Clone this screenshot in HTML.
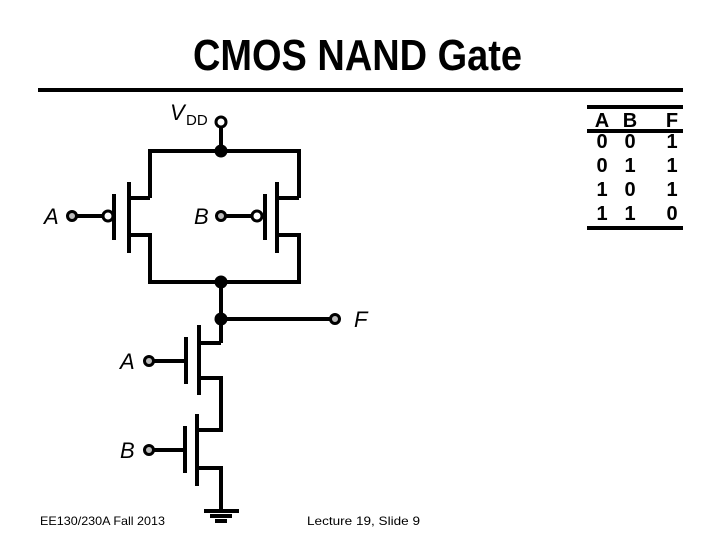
<!DOCTYPE html>
<html><head><meta charset="utf-8"><style>html,body{margin:0;padding:0;background:#fff;width:720px;height:540px;overflow:hidden}</style></head>
<body>
<svg width="720" height="540" viewBox="0 0 720 540" xmlns="http://www.w3.org/2000/svg">
<rect width="720" height="540" fill="#fff"/>
<text x="193" y="70" font-family="Liberation Sans, sans-serif" font-weight="bold" font-size="44" textLength="329" lengthAdjust="spacingAndGlyphs">CMOS NAND Gate</text>
<line x1="38" y1="90" x2="683" y2="90" stroke="#000" stroke-width="4"/>
<g stroke="#000" stroke-width="4" fill="none" stroke-linejoin="miter">
<line x1="221" y1="127" x2="221" y2="151"/>
<polyline points="150,198 150,151 299,151 299,198"/>
<polyline points="150,198 129,198"/>
<line x1="129" y1="182" x2="129" y2="253"/>
<line x1="114" y1="194" x2="114" y2="240"/>
<polyline points="129,235 150,235 150,282 299,282 299,235 277,235"/>
<line x1="76" y1="216" x2="103" y2="216"/>
<line x1="299" y1="198" x2="277" y2="198"/>
<line x1="277" y1="182" x2="277" y2="253"/>
<line x1="265" y1="194" x2="265" y2="240"/>
<line x1="225" y1="216" x2="252" y2="216"/>
<line x1="221" y1="282" x2="221" y2="343"/>
<line x1="221" y1="319" x2="330" y2="319"/>
<polyline points="221,343 199,343"/>
<line x1="199" y1="325" x2="199" y2="395"/>
<line x1="186" y1="337" x2="186" y2="384"/>
<polyline points="199,378 221,378 221,430 197,430"/>
<line x1="153" y1="361" x2="186" y2="361"/>
<line x1="197" y1="414" x2="197" y2="486"/>
<line x1="185" y1="426" x2="185" y2="473"/>
<polyline points="197,468 221,468 221,511"/>
<line x1="153" y1="450" x2="185" y2="450"/>
<line x1="204" y1="511" x2="239" y2="511"/>
<line x1="210" y1="516" x2="232" y2="516"/>
<line x1="215" y1="521" x2="227" y2="521"/>
</g>
<g stroke="#000" stroke-width="3">
<circle cx="221" cy="122" r="5" fill="#fff"/>
<circle cx="108" cy="216" r="5" fill="#fff"/>
<circle cx="257" cy="216" r="5" fill="#fff"/>
<circle cx="72" cy="216" r="4.5" fill="#bbb"/>
<circle cx="221" cy="216" r="4.5" fill="#bbb"/>
<circle cx="335" cy="319" r="4.5" fill="#bbb"/>
<circle cx="149" cy="361" r="4.5" fill="#bbb"/>
<circle cx="149" cy="450" r="4.5" fill="#bbb"/>
</g>
<g fill="#000">
<circle cx="221" cy="151" r="6.5"/>
<circle cx="221" cy="282" r="6.5"/>
<circle cx="221" cy="319" r="6.5"/>
</g>
<g font-family="Liberation Sans, sans-serif" font-style="italic" font-size="22" fill="#000">
<text x="170" y="120">V</text>
<text x="186" y="125" font-style="normal" font-size="15">DD</text>
<text x="44" y="224">A</text>
<text x="194" y="224">B</text>
<text x="354" y="327">F</text>
<text x="120" y="369">A</text>
<text x="120" y="458">B</text>
</g>
<g stroke="#000" stroke-width="4">
<line x1="587" y1="107" x2="683" y2="107"/>
<line x1="587" y1="131" x2="683" y2="131"/>
<line x1="587" y1="228" x2="683" y2="228"/>
</g>
<g font-family="Liberation Sans, sans-serif" font-weight="bold" font-size="20" text-anchor="middle" fill="#000">
<text x="602" y="127">A</text><text x="630" y="127">B</text><text x="672" y="127">F</text>
<text x="602" y="148">0</text><text x="630" y="148">0</text><text x="672" y="148">1</text>
<text x="602" y="172">0</text><text x="630" y="172">1</text><text x="672" y="172">1</text>
<text x="602" y="196">1</text><text x="630" y="196">0</text><text x="672" y="196">1</text>
<text x="602" y="220">1</text><text x="630" y="220">1</text><text x="672" y="220">0</text>
</g>
<g font-family="Liberation Sans, sans-serif" font-size="12" fill="#000">
<text x="40" y="525" textLength="125" lengthAdjust="spacingAndGlyphs">EE130/230A Fall 2013</text>
<text x="307" y="525" textLength="113" lengthAdjust="spacingAndGlyphs">Lecture 19, Slide 9</text>
</g>
</svg>
</body></html>
